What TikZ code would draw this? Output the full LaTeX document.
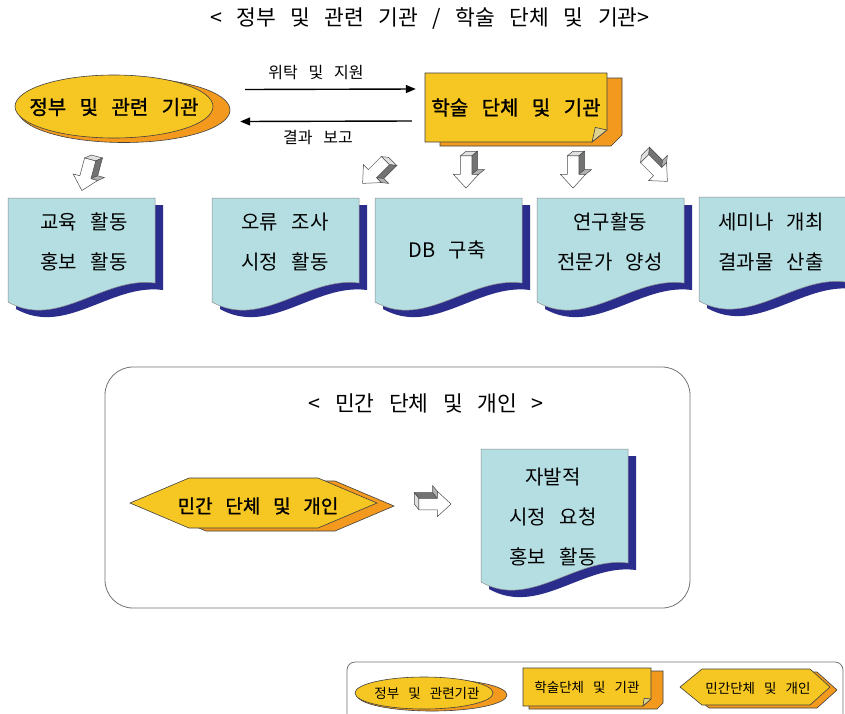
\documentclass[tikz,border=0pt]{standalone}
\usepackage{fontspec}
\setmainfont[WordSpace=3.0]{Noto Sans CJK KR}
\newfontfamily\heavyfont[WordSpace=3.0, FakeBold=1.2]{Noto Sans CJK KR}
\usetikzlibrary{arrows.meta,calc}

\definecolor{gold}{HTML}{F6C622}
\definecolor{amber}{HTML}{F39A1E}
\definecolor{paper}{HTML}{B4DEE2}
\definecolor{navy}{HTML}{2B2D8C}
\definecolor{flap}{HTML}{DDD38E}

\tikzset{
  outl/.style={draw=black!75, line width=0.6pt},
  big/.style={font=\fontsize{21.5}{25}\selectfont},
  shapetext/.style={font=\fontsize{20}{24}\heavyfont},
  hextext/.style={font=\fontsize{19}{23}\heavyfont},
  doctext/.style={font=\fontsize{20}{40}\selectfont, align=center},
  small/.style={font=\fontsize{16}{18}\selectfont},
  legend/.style={font=\fontsize{13.5}{16}\selectfont},
  conn/.style={line width=1.4pt, -{Triangle[length=10pt,width=8pt]}},
  frame/.style={draw=black!55, line width=0.8pt}
}

% page with wavy bottom edge and a dark drop shadow; #1,#2 = top-left, #3 = left height
\newcommand\DocPage[3]{%
  \begin{scope}[shift={(#1,#2)}]
    \fill[navy] (8,7) -- (155,7) -- (155,#3-12)
      .. controls (103,#3-19) and (58,#3+35) .. (8,#3+7) -- cycle;
    \filldraw[fill=paper, draw=black!45, line width=0.5pt] (0,0) -- (147,0) -- (147,#3-19)
      .. controls (95,#3-26) and (50,#3+28) .. (0,#3) -- cycle;
  \end{scope}}

% extruded block arrow, pointing down before rotation
\newcommand\BlockArrow[3]{%
  \begin{scope}[shift={(#1,#2)}, rotate=#3, scale=1.15, line width=0.5pt, draw=black!70]
    \filldraw[fill=black!12] (-5,-14) -- (5,-14) -- (10,-18) -- (0,-18) -- cycle;
    \filldraw[fill=black!55] (5,-14) -- (10,-18) -- (10,-2) -- (5,2) -- cycle;
    \filldraw[fill=black!30] (5,2) -- (10,-2) -- (16,-2) -- (11,2) -- cycle;
    \filldraw[fill=white] (-5,-14) -- (5,-14) -- (5,2) -- (11,2) -- (0,14)
      -- (-11,2) -- (-5,2) -- cycle;
  \end{scope}}

\begin{document}
\begin{tikzpicture}[x=1pt,y=-1pt]
\useasboundingbox (0,0) rectangle (845,713);
\fill[white] (0,0) rectangle (845,713);
\clip (0,0) rectangle (845,713);

% heading
\node[big] (head) at (430,18) {< 정부 및 관련 기관 / 학술 단체 및 기관>};

% government ellipse with its orange shadow
\filldraw[fill=amber, outl] (124,110) ellipse [x radius=106pt, y radius=32.5pt];
\filldraw[fill=gold, outl] (114,106.5) ellipse [x radius=99pt, y radius=31.5pt];
\node[minimum width=198pt, minimum height=63pt, inner sep=0pt, shapetext] (gov) at (114,107) {정부 및 관련 기관};

% academic sheet with curled corner
\filldraw[fill=amber, outl] (440,78) -- (622,78) -- (622,135) -- (611,146) -- (440,146) -- cycle;
\filldraw[fill=gold, outl] (425,73) -- (607,73) -- (607,130) -- (592,142) -- (425,142) -- cycle;
\filldraw[fill=flap, outl] (592,142) -- (607,130) -- (595.3,127.4) -- cycle;
\node[minimum width=182pt, minimum height=69pt, inner sep=0pt, shapetext] (acad) at (516,107.5) {학술 단체 및 기관};

% exchange between the two
\path (gov.east) ++(32,-17.5) coordinate (tS);
\path (acad.west) ++(-9,-18.5) coordinate (tE);
\path (acad.west) ++(-13,13.5) coordinate (bS);
\path (gov.east) ++(27,14.5) coordinate (bE);
\draw[conn] (tS) -- (tE);
\draw[conn] (bS) -- (bE);
\node[small] (lab1) at (316,73) {위탁 및 지원};
\node[small] (lab2) at (318,138) {결과 보고};

% block arrows
\BlockArrow{86}{175}{-15}
\BlockArrow{374}{172}{-45}
\BlockArrow{466}{172}{0}
\BlockArrow{573}{172}{0}
\BlockArrow{656}{170}{45}

% activity pages
\DocPage{8}{198}{104}
\DocPage{212}{198}{104}
\DocPage{375}{198}{104}
\DocPage{537}{198}{104}
\DocPage{699}{197}{104}
\node[doctext] (d1) at (84,242) {교육 활동\\홍보 활동};
\node[doctext] (d2) at (285,242) {오류 조사\\시정 활동};
\node[doctext] (d3) at (447,250) {DB 구축};
\node[doctext] (d4) at (610,242) {연구활동\\전문가 양성};
\node[doctext] (d5) at (771,242) {세미나 개최\\결과물 산출};

% private section
\draw[frame, rounded corners=28pt] (105,367) rectangle (690,608);
\node[big] (ptitle) at (426,403) {< 민간 단체 및 개인 >};
\filldraw[fill=amber, outl] (147,506) -- (206,481) -- (335,481) -- (394,506) -- (335,531) -- (206,531) -- cycle;
\filldraw[fill=gold, outl] (130,503) -- (189,478) -- (318,478) -- (377,503) -- (318,528) -- (189,528) -- cycle;
\node[hextext] (priv) at (258,506) {민간 단체 및 개인};
\BlockArrow{435}{504}{90}
\DocPage{481}{449}{133}
\node[doctext] (req) at (553,517) {자발적\\시정 요청\\홍보 활동};

% legend
\draw[frame, rounded corners=8pt] (347,662) rectangle (843,730);
\filldraw[fill=amber, outl] (432,695) ellipse [x radius=75pt, y radius=16pt];
\filldraw[fill=gold, outl] (424,693) ellipse [x radius=69pt, y radius=16pt];
\node[legend] (lgov) at (427,693) {정부 및 관련기관};
\filldraw[fill=amber, outl] (529,671) -- (663,671) -- (663,703) -- (657,709) -- (529,709) -- cycle;
\filldraw[fill=gold, outl] (523,668) -- (651,668) -- (651,699) -- (643,706) -- (523,706) -- cycle;
\filldraw[fill=flap, outl] (643,706) -- (651,699) -- (644.1,698.1) -- cycle;
\node[legend] (lacad) at (587,687) {학술단체 및 기관};
\filldraw[fill=amber, outl] (687,690) -- (709,672) -- (817,672) -- (837,690) -- (817,708) -- (709,708) -- cycle;
\filldraw[fill=gold, outl] (680,687) -- (702,669) -- (810,669) -- (830,687) -- (810,705) -- (702,705) -- cycle;
\node[legend] (lpriv) at (758,688) {민간단체 및 개인};
\end{tikzpicture}
\end{document}
